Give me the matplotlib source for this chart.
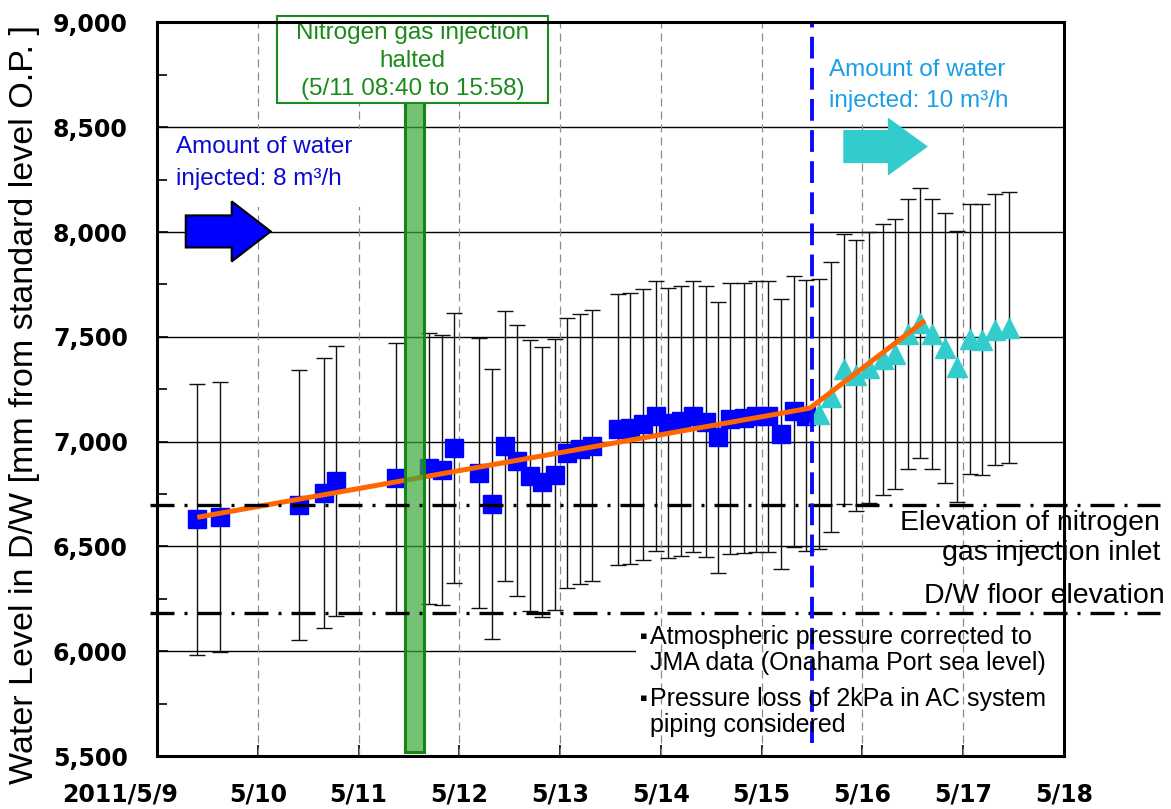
import matplotlib
matplotlib.use('Agg')
import matplotlib.pyplot as plt
from matplotlib.patches import Rectangle, FancyArrow
from matplotlib.ticker import MultipleLocator, FixedLocator, FuncFormatter
import matplotlib.transforms as mtransforms

plt.rcParams['font.family'] = ['Liberation Sans', 'DejaVu Sans']

# --- data (day of May 2011, water level in mm O.P.) ---
blue_days = [9.40, 9.62, 10.41, 10.66, 10.78, 11.37, 11.70, 11.83, 11.95,
             12.20, 12.32, 12.45, 12.57, 12.70, 12.82, 12.95, 13.07, 13.20,
             13.32, 13.57, 13.69, 13.82, 13.95, 14.07, 14.20, 14.32, 14.45,
             14.57, 14.69, 14.82, 14.94, 15.06, 15.19, 15.32, 15.44]
blue_mm = [6629, 6639, 6698, 6754, 6811, 6825, 6872, 6865, 6970,
           6849, 6704, 6980, 6910, 6838, 6808, 6843, 6945, 6964,
           6981, 7058, 7063, 7082, 7122, 7088, 7100, 7120, 7096,
           7020, 7110, 7114, 7120, 7120, 7035, 7144, 7124]
cyan_days = [15.57, 15.69, 15.82, 15.94, 16.07, 16.20, 16.32, 16.45,
             16.57, 16.69, 16.82, 16.94, 17.07, 17.19, 17.32, 17.45]
cyan_mm = [7133, 7212, 7348, 7316, 7353, 7392, 7418, 7515,
           7565, 7514, 7446, 7358, 7491, 7487, 7535, 7544]
err_mm = 645  # half width of the error bars

trend_days = [9.40, 15.48, 16.62]
trend_mm = [6639, 7160, 7578]

n2_inlet_mm = 6700
dw_floor_mm = 6184
n2_halt_days = (11.465, 11.648)
rate_change_day = 15.495

day_ticks = [9, 10, 11, 12, 13, 14, 15, 16, 17, 18]
day_labels = ['2011/5/9', '5/10', '5/11', '5/12', '5/13',
              '5/14', '5/15', '5/16', '5/17', '5/18']
y_ticks = [5500, 6000, 6500, 7000, 7500, 8000, 8500, 9000]

# --- figure ---
fig = plt.figure(figsize=(11.71, 8.09), dpi=100)
fig.patch.set_facecolor('white')
ax = fig.add_axes([0.1341, 0.0655, 0.7745, 0.9067])
ax.set_xlim(9, 18)
ax.set_ylim(5500, 9000)

# grid lines
for yv in y_ticks:
    ax.axhline(yv, color='black', lw=1.0, zorder=1)
for d in day_ticks[1:-1]:
    ax.axvline(d, color='#8c8c8c', lw=0.9, ls=(0, (6.4, 4)), zorder=1.6)

# white boxes behind the text blocks
ax.add_patch(Rectangle((0.528, 0.012), 0.49, 0.17, transform=ax.transAxes,
                       facecolor='white', edgecolor='none', zorder=1.3))
ax.add_patch(Rectangle((0.014, 0.749), 0.222, 0.106, transform=ax.transAxes,
                       facecolor='white', edgecolor='none', zorder=1.8))
ax.add_patch(Rectangle((0.733, 0.866), 0.22, 0.132, transform=ax.transAxes,
                       facecolor='white', edgecolor='none', zorder=1.8))

# error bars, markers, trend
ax.errorbar(blue_days, blue_mm, yerr=err_mm, fmt='none', ecolor='#111111',
            elinewidth=1.0, capsize=5.5, capthick=1.0, zorder=2)
ax.errorbar(cyan_days, cyan_mm, yerr=err_mm, fmt='none', ecolor='#111111',
            elinewidth=1.0, capsize=5.5, capthick=1.0, zorder=2)
ax.plot(blue_days, blue_mm, 's', color='#0000ff', ms=13, zorder=3)
ax.plot(cyan_days, cyan_mm, '^', color='#33cccc', ms=15, zorder=3)
ax.plot(trend_days, trend_mm, color='#ff6600', lw=3.6, zorder=4,
        solid_capstyle='butt')

# nitrogen halt band
ax.add_patch(Rectangle((n2_halt_days[0], 5520), n2_halt_days[1] - n2_halt_days[0],
                       3300, facecolor='#3aa83a', alpha=0.7, edgecolor='none',
                       zorder=4.5))
ax.add_patch(Rectangle((n2_halt_days[0], 5520), n2_halt_days[1] - n2_halt_days[0],
                       3300, facecolor='none', edgecolor='#118811', lw=2.2,
                       zorder=4.6))

# reference elevations (dash-dot, running past the axes)
for yv in (n2_inlet_mm, dw_floor_mm):
    ax.axhline(yv, xmin=-0.008, xmax=1.106, color='black', lw=2.4,
               ls=(0, (7.2, 3, 0.9, 3)), clip_on=False, zorder=5)

# change of injection rate
ax.plot([rate_change_day, rate_change_day], [5560, 9000], color='#0a0aff',
        lw=2.8, ls=(0, (5.6, 2.4)), zorder=5)

# arrows
ax.add_patch(FancyArrow(9.285, 8003, 0.843, 0, width=153, head_width=287,
                        head_length=0.387, length_includes_head=True,
                        facecolor='#0000ff', edgecolor='black', lw=1.5, zorder=6))
ax.add_patch(FancyArrow(15.81, 8408, 0.84, 0, width=158, head_width=277,
                        head_length=0.397, length_includes_head=True,
                        facecolor='#33cccc', edgecolor='none', zorder=6))

# annotations
ax.text(0.0209, 0.8083, 'Amount of water\ninjected: 8 m³/h', transform=ax.transAxes,
        ha='left', va='center', fontsize=17.5, color='#0a0ad2', linespacing=1.62,
        zorder=7)
ax.text(0.7409, 0.914, 'Amount of water\ninjected: 10 m³/h', transform=ax.transAxes,
        ha='left', va='center', fontsize=17.5, color='#1a9ee6', linespacing=1.55,
        zorder=7)

ax.add_patch(Rectangle((0.1323, 0.8909), 0.2983, 0.1173, transform=ax.transAxes,
                       facecolor='white', edgecolor='#1a8a1a', lw=1.5,
                       clip_on=False, zorder=8))
ax.text(0.2816, 0.948, 'Nitrogen gas injection\nhalted\n(5/11 08:40 to 15:58)',
        transform=ax.transAxes, ha='center', va='center', fontsize=17.5,
        color='#1a8a1a', linespacing=1.36, zorder=9, clip_on=False)

ax.text(1.106, 0.297, 'Elevation of nitrogen\ngas injection inlet',
        transform=ax.transAxes, ha='right', va='center', fontsize=20.5,
        linespacing=1.2, zorder=7, clip_on=False)
ax.text(1.111, 0.218, 'D/W floor elevation', transform=ax.transAxes,
        ha='right', va='center', fontsize=20.5, zorder=7, clip_on=False)

for yc, note in ((0.1446, 'Atmospheric pressure corrected to\nJMA data (Onahama Port sea level)'),
                 (0.0600, 'Pressure loss of 2kPa in AC system\npiping considered')):
    ax.text(0.5436, yc, note, transform=ax.transAxes, ha='left', va='center',
            fontsize=18, linespacing=1.06, zorder=7)
    ax.text(0.5365, yc + 0.0185, '▪', transform=ax.transAxes, ha='center',
            va='center', fontsize=8, family='DejaVu Sans', zorder=7)

# axes, ticks
ax.xaxis.set_major_locator(FixedLocator(day_ticks))
ax.set_xticklabels(day_labels)
ax.yaxis.set_major_locator(FixedLocator(y_ticks))
ax.yaxis.set_minor_locator(MultipleLocator(250))
ax.yaxis.set_major_formatter(FuncFormatter(lambda v, p: f'{v:,.0f}'))
ax.tick_params(axis='x', direction='in', length=8, width=1.2, pad=19,
               labelsize=17)
ax.tick_params(axis='y', which='major', direction='in', length=8, width=1.2,
               pad=21, labelsize=17)
ax.tick_params(axis='y', which='minor', direction='in', length=7, width=1.2)
for lab in ax.get_xticklabels() + ax.get_yticklabels():
    lab.set_fontfamily('DejaVu Sans')
    lab.set_fontweight('bold')
first = ax.get_xticklabels()[0]
first.set_transform(first.get_transform() +
                    mtransforms.ScaledTranslation(-0.37, 0, fig.dpi_scale_trans))
for sp in ax.spines.values():
    sp.set_linewidth(2.2)
    sp.set_zorder(10)

fig.text(25 / 1171, 0.5, 'Water Level in D/W [mm from standard level O.P. ]',
         rotation=90, ha='center', va='center', fontsize=24.5)

fig.savefig('out.png', dpi=100, facecolor='white')
